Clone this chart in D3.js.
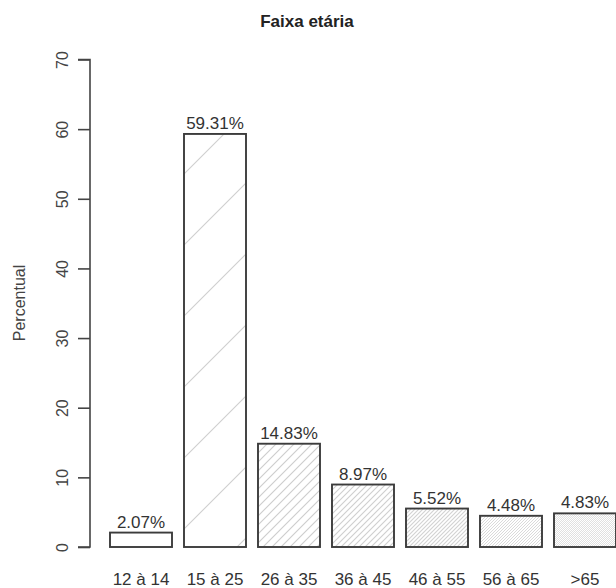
<!DOCTYPE html>
<html>
<head>
<meta charset="utf-8">
<script src="https://cdn.jsdelivr.net/npm/d3@7"></script>
<style>
  html, body { margin: 0; padding: 0; background: #fff; }
  svg { display: block; }
  text { font-family: "Liberation Sans", Arial, sans-serif; }
</style>
</head>
<body>
<svg id="chart" width="616" height="588"></svg>
<script>
// ---- data ----
const categories = ["12 à 14", "15 à 25", "26 à 35", "36 à 45", "46 à 55", "56 à 65", ">65"];
const values = [2.07, 59.31, 14.83, 8.97, 5.52, 4.48, 4.83];
const valueLabels = ["2.07%", "59.31%", "14.83%", "8.97%", "5.52%", "4.48%", "4.83%"];
const yTicks = [0, 10, 20, 30, 40, 50, 60, 70];
const title = "Faixa etária";
const yTitle = "Percentual";

// hatch spacing (px between diagonal lines), 0 = no hatching
const hatchSpacing = [0, 71, 9, 6, 4, 3, 2];
const hatchColor = ["#fff", "#cfcfcf", "#cdcdcd", "#cfcfcf", "#d2d2d2", "#d6d6d6", "#dcdcdc"];

const svg = d3.select("#chart");

const x = d3.scaleBand()
  .domain(categories)
  .range([110, 616])
  .paddingInner(12 / 74)
  .paddingOuter(0);

const y = d3.scaleLinear().domain([0, 70]).range([547, 59.5]);

// patterns
const defs = svg.append("defs");
hatchSpacing.forEach((s, i) => {
  if (!s) return;
  const p = defs.append("pattern")
    .attr("id", "hatch" + i)
    .attr("patternUnits", "userSpaceOnUse")
    .attr("x", s > 20 ? 3 : 0)
    .attr("width", s).attr("height", s);
  p.append("rect").attr("width", s).attr("height", s).attr("fill", "#fff");
  p.append("path")
    .attr("d", `M0,${s} L${s},0 M-1,1 L1,-1 M${s - 1},${s + 1} L${s + 1},${s - 1}`)
    .attr("stroke", hatchColor[i])
    .attr("stroke-width", s <= 3 ? 0.9 : 1.1)
    .attr("fill", "none");
});

// title
svg.append("text")
  .attr("x", 307).attr("y", 27)
  .attr("text-anchor", "middle")
  .attr("font-size", 17).attr("font-weight", "bold")
  .attr("fill", "#222")
  .text(title);

// y axis title
svg.append("text")
  .attr("transform", "translate(25,303) rotate(-90)")
  .attr("text-anchor", "middle")
  .attr("font-size", 16)
  .attr("fill", "#444")
  .text(yTitle);

// y axis
const yAxis = d3.axisLeft(y).tickValues(yTicks).tickSize(12).tickPadding(0).tickFormat(d3.format("d"));
const gy = svg.append("g").attr("transform", "translate(90,0)").call(yAxis);
gy.select(".domain").attr("stroke", "#444").attr("stroke-width", 1.6).attr("d", `M-12,${y(70)}H0V${y(0)}H-12`);
gy.selectAll(".tick line").attr("stroke", "#444").attr("stroke-width", 1.6);
gy.selectAll(".tick text")
  .attr("font-family", "'Liberation Sans', Arial, sans-serif")
  .attr("font-size", 16)
  .attr("fill", "#444")
  .attr("text-anchor", "middle")
  .attr("x", null)
  .attr("y", 0)
  .attr("dy", "0.35em")
  .attr("transform", "translate(-28,0) rotate(-90)");

// bars
svg.selectAll("rect.bar")
  .data(values)
  .join("rect")
  .attr("class", "bar")
  .attr("x", (d, i) => x(categories[i]))
  .attr("width", x.bandwidth())
  .attr("y", d => y(d))
  .attr("height", d => y(0) - y(d))
  .attr("fill", (d, i) => hatchSpacing[i] ? `url(#hatch${i})` : "#fff")
  .attr("stroke", "#3c3c3c")
  .attr("stroke-width", 1.9);

// value labels
svg.selectAll("text.val")
  .data(values)
  .join("text")
  .attr("class", "val")
  .attr("x", (d, i) => x(categories[i]) + x.bandwidth() / 2)
  .attr("y", d => y(d) - 5)
  .attr("text-anchor", "middle")
  .attr("font-size", 17)
  .attr("fill", "#333")
  .text((d, i) => valueLabels[i]);

// x axis labels
const xAxis = d3.axisBottom(x).tickSize(0).tickPadding(0);
const gx = svg.append("g").attr("transform", "translate(0,571)").call(xAxis);
gx.select(".domain").remove();
gx.selectAll(".tick text")
  .attr("font-family", "'Liberation Sans', Arial, sans-serif")
  .attr("font-size", 17)
  .attr("fill", "#333")
  .attr("dy", "0.8em");
</script>
</body>
</html>
